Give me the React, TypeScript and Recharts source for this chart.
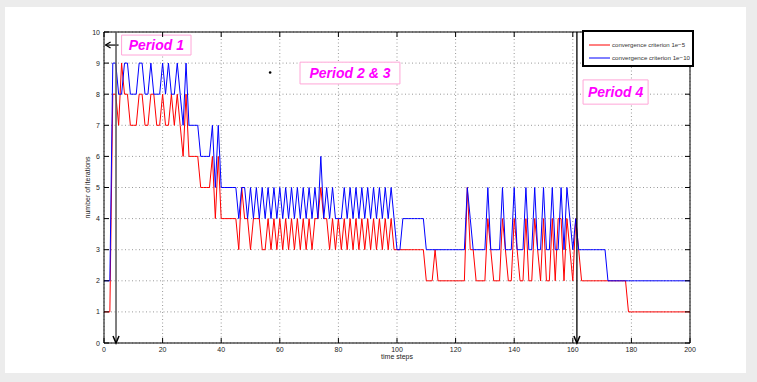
import {
  LineChart,
  Line,
  XAxis,
  YAxis,
  CartesianGrid,
  ReferenceLine,
  ReferenceArea,
  ReferenceDot,
} from "recharts";

// iterations needed per time step
const red1e5 = [
  1, 1, 1, 8, 8, 7, 9, 8, 8, 7,
  7, 7, 8, 8, 7, 7, 8, 8, 7, 7,
  8, 7, 7, 8, 7, 8, 7, 6, 8, 6,
  6, 6, 6, 5, 5, 5, 5, 6, 4, 6,
  4, 4, 4, 4, 4, 4, 3, 5, 4, 4,
  3, 4, 4, 4, 3, 3, 4, 3, 4, 3,
  4, 3, 4, 3, 4, 3, 4, 3, 4, 3,
  4, 3, 4, 4, 5, 4, 4, 3, 4, 3,
  4, 3, 4, 3, 4, 3, 4, 3, 4, 3,
  4, 3, 4, 3, 4, 3, 4, 3, 4, 3,
  3, 3, 3, 3, 3, 3, 3, 3, 3, 3,
  2, 2, 2, 3, 2, 2, 2, 2, 2, 2,
  2, 2, 2, 2, 5, 3, 3, 2, 2, 2,
  2, 4, 3, 2, 2, 2, 4, 3, 2, 2,
  4, 3, 2, 2, 4, 2, 2, 4, 3, 2,
  4, 2, 2, 4, 2, 4, 4, 2, 4, 3,
  2, 4, 3, 2, 2, 2, 2, 2, 2, 2,
  2, 2, 2, 2, 2, 2, 2, 2, 2, 1,
  1, 1, 1, 1, 1, 1, 1, 1, 1, 1,
  1, 1, 1, 1, 1, 1, 1, 1, 1, 1,
  1,
];

const blue1e10 = [
  2, 2, 2, 9, 9, 8, 8, 9, 9, 8,
  8, 8, 9, 9, 8, 8, 9, 8, 8, 8,
  9, 8, 9, 8, 8, 9, 8, 7, 9, 7,
  7, 7, 7, 6, 6, 6, 6, 7, 5, 7,
  5, 5, 5, 5, 5, 5, 4, 5, 5, 4,
  5, 4, 5, 4, 5, 4, 5, 4, 5, 4,
  5, 4, 5, 4, 5, 4, 5, 4, 5, 4,
  5, 4, 5, 4, 6, 4, 5, 4, 5, 4,
  4, 4, 5, 4, 5, 4, 5, 4, 5, 4,
  5, 4, 5, 4, 5, 4, 5, 4, 5, 4,
  3, 3, 4, 4, 4, 4, 4, 4, 4, 4,
  3, 3, 3, 3, 3, 3, 3, 3, 3, 3,
  3, 3, 3, 3, 5, 4, 3, 3, 3, 3,
  3, 5, 3, 3, 3, 3, 5, 3, 3, 3,
  5, 3, 3, 3, 5, 3, 3, 5, 3, 3,
  5, 3, 3, 5, 3, 3, 5, 3, 5, 4,
  3, 4, 3, 3, 3, 3, 3, 3, 3, 3,
  3, 3, 2, 2, 2, 2, 2, 2, 2, 2,
  2, 2, 2, 2, 2, 2, 2, 2, 2, 2,
  2, 2, 2, 2, 2, 2, 2, 2, 2, 2,
  2,
];

const xTicks = [0, 20, 40, 60, 80, 100, 120, 140, 160, 180, 200];
const yTicks = [0, 1, 2, 3, 4, 5, 6, 7, 8, 9, 10];

const seriesNames = ["convergence criterion 1e\u22125", "convergence criterion 1e\u221210"];
const seriesColors = ["#ff0000", "#0000ff"];

const periods = [
  { label: "Period 1", x1: 6, x2: 29.7, y1: 9.26, y2: 9.9 },
  { label: "Period 2 & 3", x1: 66.9, x2: 101, y1: 8.33, y2: 9.03 },
  { label: "Period 4", x1: 163.5, x2: 185.7, y1: 7.68, y2: 8.46 },
];
const periodMarks = [4.1, 161.4];

const chartData = red1e5.map((r, i) => ({ t: i, red: r, blue: blue1e10[i] }));

const FONT = "'Liberation Sans', Arial, sans-serif";
const PLOT_LEFT = 104;
const PLOT_RIGHT = 690;
const PLOT_TOP = 32;
const PLOT_BOTTOM = 343;

const XTick = (props: any) => {
  const { x, payload } = props;
  return (
    <g>
      <line x1={x} x2={x} y1={PLOT_BOTTOM} y2={PLOT_BOTTOM - 5} stroke="#000" />
      <line x1={x} x2={x} y1={PLOT_TOP} y2={PLOT_TOP + 5} stroke="#000" />
      <text x={x} y={PLOT_BOTTOM + 9} textAnchor="middle" fontSize={7} fill="#222" fontFamily={FONT}>
        {payload.value}
      </text>
    </g>
  );
};

const YTick = (props: any) => {
  const { y, payload } = props;
  return (
    <g>
      <line x1={PLOT_LEFT} x2={PLOT_LEFT + 5} y1={y} y2={y} stroke="#000" />
      <line x1={PLOT_RIGHT - 5} x2={PLOT_RIGHT} y1={y} y2={y} stroke="#000" />
      <text x={PLOT_LEFT - 4} y={y + 2.5} textAnchor="end" fontSize={7} fill="#222" fontFamily={FONT}>
        {payload.value}
      </text>
    </g>
  );
};

const DownArrow = ({ viewBox }: any) => {
  const x = viewBox.x;
  const b = viewBox.y + viewBox.height;
  return <polyline points={`${x - 3},${b - 7} ${x},${b} ${x + 3},${b - 7}`} fill="none" stroke="#000" strokeWidth={1.5} />;
};

const PeriodLabel = (text: string, arrow: boolean) => (props: any) => {
  const { viewBox } = props;
  const cx = viewBox.x + viewBox.width / 2;
  const cy = viewBox.y + viewBox.height / 2;
  return (
    <g>
      <text x={cx} y={cy + 5} textAnchor="middle" fontSize={14} fontWeight="bold" fontStyle="italic" fill="#ff00ff" fontFamily={FONT}>
        {text}
      </text>
      {arrow && (
        <g stroke="#000" strokeWidth={1.2} fill="none">
          <line x1={viewBox.x - 3} x2={viewBox.x - 16} y1={cy} y2={cy} />
          <polyline points={`${viewBox.x - 11},${cy - 3} ${viewBox.x - 16},${cy} ${viewBox.x - 11},${cy + 3}`} />
        </g>
      )}
    </g>
  );
};

const LegendBox = () => (
  <svg width={112} height={37} style={{ position: "absolute", left: 582, top: 30 }}>
    <rect x={1} y={1} width={110} height={35} fill="#fff" stroke="#000" strokeWidth={2} />
    {seriesNames.map((name, i) => (
      <g key={name}>
        <line x1={7} x2={28} y1={15 + i * 13} y2={15 + i * 13} stroke={seriesColors[i]} strokeWidth={1} />
        <text x={30} y={17 + i * 13} fontSize={6.2} fill="#333" fontFamily={FONT} textLength={i === 0 ? 73 : 78} lengthAdjust="spacingAndGlyphs">
          {name}
        </text>
      </g>
    ))}
  </svg>
);

export default function App() {
  return (
    <div style={{ position: "absolute", left: 0, top: 0, width: 757, height: 382, background: "#ececec" }}>
      <div style={{ position: "absolute", left: 5, top: 7, width: 741, height: 366, background: "#fff" }} />
      <div style={{ position: "absolute", left: 0, top: 0 }}>
        <LineChart
          width={757}
          height={382}
          data={chartData}
          margin={{ top: PLOT_TOP, right: 757 - PLOT_RIGHT, bottom: 14, left: PLOT_LEFT - 30 }}
        >
          <CartesianGrid stroke="#999" strokeDasharray="1 2.5" horizontalValues={yTicks} verticalValues={xTicks} />
          <XAxis
            dataKey="t"
            type="number"
            domain={[0, 200]}
            ticks={xTicks}
            interval={0}
            height={25}
            tick={<XTick />}
            tickLine={false}
            axisLine={{ stroke: "#000" }}
            label={{
              content: ({ viewBox }: any) => (
                <text x={viewBox.x + viewBox.width / 2} y={viewBox.y + 16} textAnchor="middle" fontSize={7} fill="#222" fontFamily={FONT}>
                  time steps
                </text>
              ),
            }}
          />
          <YAxis
            type="number"
            domain={[0, 10]}
            ticks={yTicks}
            interval={0}
            width={30}
            tick={<YTick />}
            tickLine={false}
            axisLine={{ stroke: "#000" }}
            label={{
              content: ({ viewBox }: any) => {
                const x = viewBox.x + 16;
                const y = viewBox.y + viewBox.height / 2;
                return (
                  <text x={x} y={y} transform={`rotate(-90 ${x} ${y})`} textAnchor="middle" fontSize={7} fill="#222" fontFamily={FONT}>
                    number of iterations
                  </text>
                );
              },
            }}
          />
          <ReferenceLine y={10} stroke="#000" />
          <ReferenceLine x={200} stroke="#000" />
          <Line type="linear" dataKey="red" name={seriesNames[0]} stroke={seriesColors[0]} strokeWidth={1} dot={false} isAnimationActive={false} />
          <Line type="linear" dataKey="blue" name={seriesNames[1]} stroke={seriesColors[1]} strokeWidth={1} dot={false} isAnimationActive={false} />
          {periods.map((p, i) => (
            <ReferenceArea
              key={p.label}
              x1={p.x1}
              x2={p.x2}
              y1={p.y1}
              y2={p.y2}
              fill="#fff"
              fillOpacity={1}
              stroke="#ffa6d8"
              strokeWidth={1}
              label={{ content: PeriodLabel(p.label, i === 0) }}
            />
          ))}
          <ReferenceLine x={periodMarks[0]} stroke="#555" strokeWidth={1.5} label={{ content: DownArrow }} />
          <ReferenceLine x={periodMarks[1]} stroke="#000" strokeWidth={1.3} label={{ content: DownArrow }} />
          <ReferenceDot x={56.7} y={8.7} r={1.3} fill="#000" stroke="none" />
        </LineChart>
      </div>
      <LegendBox />
    </div>
  );
}
